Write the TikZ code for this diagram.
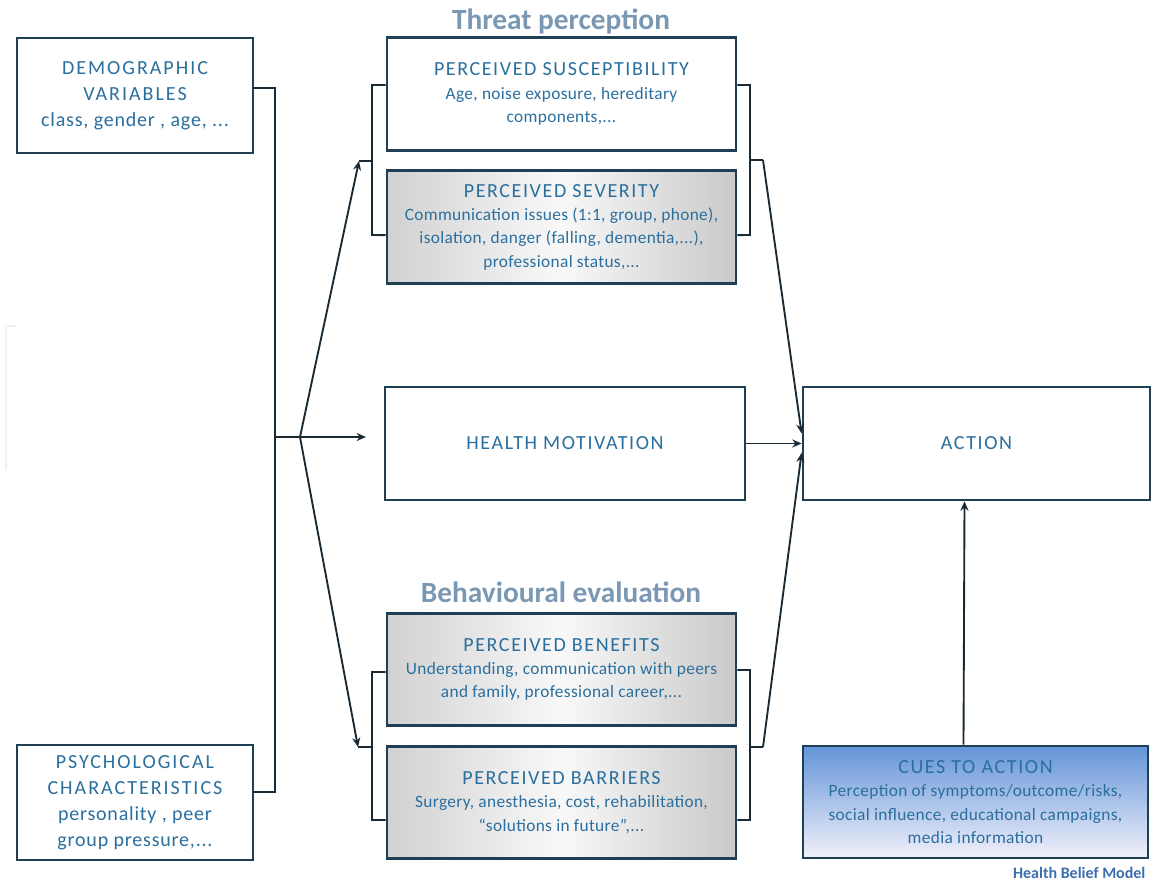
\documentclass[tikz,border=0pt]{standalone}
\usepackage{fontspec}
\setmainfont{Carlito}
\newfontfamily\capsfont[LetterSpace=8]{Carlito}
\newfontfamily\subfont[LetterSpace=2]{Carlito}
\newfontfamily\sidecaps[LetterSpace=10]{Carlito}
\newfontfamily\sidelow[LetterSpace=4]{Carlito}
\usetikzlibrary{arrows.meta}
\definecolor{bordc}{HTML}{1F3F52}
\definecolor{linec}{HTML}{1A2A35}
\definecolor{txtc}{HTML}{2A6F9E}
\definecolor{titc}{HTML}{7A98B3}
\definecolor{hbmc}{HTML}{3B6FB0}
\definecolor{cuetop}{HTML}{6395D8}
\definecolor{cuebot}{HTML}{F2F0FA}
\tikzset{
  box/.style={draw=bordc, line width=2.1pt, inner sep=0pt, align=center, text=txtc,
    font=\fontsize{13}{17.5}\subfont},
  sidebox/.style={box, minimum width=177pt, minimum height=86.25pt,
    font=\fontsize{15}{19.5}\sidecaps},
  midbox/.style={box, minimum width=261.75pt, minimum height=84.5pt},
  graybox/.style={midbox, left color=gray!36, right color=gray!42, middle color=gray!5},
  conn/.style={draw=linec, line width=1.4pt},
  arr/.style={conn, -{Stealth[length=7pt,width=6pt]}},
  ttl/.style={font=\fontsize{22}{25}\bfseries, text=titc},
}
\newcommand{\hdtext}[1]{{\fontsize{15}{17}\capsfont #1}}
\newcommand{\lowtext}[1]{{\sidelow #1}}
\begin{document}
\begin{tikzpicture}[x=0.75pt,y=-0.75pt]
\useasboundingbox (0,0) rectangle (1153,885);
\fill[white] (0,0) rectangle (1153,885);
% faint edge mark
\draw[gray!12, line width=2pt] (16,326) -- (6,326) -- (6,470);

% titles
\node[ttl] (tp) at (561,21) {Threat perception};
\node[ttl] (be) at (561,592) {Behavioural evaluation};

% left boxes
\node[sidebox] (dem) at (135,95.5) {DEMOGRAPHIC\\VARIABLES\\\lowtext{class, gender , age, ...}};
\node[sidebox] (psy) at (135,802.5) {PSYCHOLOGICAL\\CHARACTERISTICS\\\lowtext{personality , peer}\\\lowtext{group pressure,...}};

% threat perception
\node[midbox] (sus) at (561.5,94) {\hdtext{PERCEIVED SUSCEPTIBILITY}\\Age, noise exposure, hereditary\\components,...};
\node[graybox] (sev) at (561.5,227) {\hdtext{PERCEIVED SEVERITY}\\Communication issues (1:1, group, phone),\\isolation, danger (falling, dementia,...),\\professional status,...};

% health motivation & action
\node[box, minimum width=270pt, minimum height=84.75pt, font=\fontsize{15}{17}\capsfont] (hm) at (565,443.5) {HEALTH MOTIVATION};
\node[box, minimum width=260.25pt, minimum height=84.75pt, font=\fontsize{15}{17}\capsfont] (act) at (976.5,443.5) {ACTION};

% behavioural evaluation
\node[graybox] (ben) at (561.5,669.5) {\hdtext{PERCEIVED BENEFITS}\\Understanding, communication with peers\\and family, professional career,...};
\node[graybox] (bar) at (561.5,802.5) {\hdtext{PERCEIVED BARRIERS}\\Surgery, anesthesia, cost, rehabilitation,\\“solutions in future”,...};

% cues
\node[box, minimum width=258.75pt, minimum height=84pt, top color=cuetop, bottom color=cuebot] (cue) at (975.5,802) {\hdtext{CUES TO ACTION}\\Perception of symptoms/outcome/risks,\\social influence, educational campaigns,\\media information};

\node[font=\fontsize{12}{14}\bfseries, text=hbmc, anchor=base east, inner sep=1pt] (hbm) at (1147,878) {Health Belief Model};

% coordinates
\coordinate (busM) at (275,437);
\coordinate (hmIn) at (366,437);
\coordinate (fan) at (300,437);
\coordinate (tlTip) at (359,161);
\coordinate (tlMid) at (372,161);
\coordinate (tlBot) at (372,235);
\coordinate (trBot) at (750,235);
\coordinate (trMid) at (750,160);
\coordinate (trOut) at (763,160);
\coordinate (blTip) at (358,747);
\coordinate (blMid) at (372,747);
\coordinate (blBot) at (372,820);
\coordinate (brBot) at (750,820);
\coordinate (brMid) at (750,747);
\coordinate (brOut) at (763,747);

% left bus
\draw[conn] ([yshift=5.6pt]dem.east) -| (busM);
\draw[conn] ([yshift=7.9pt]psy.east) -| (busM);
\draw[arr] (busM) -- (hmIn);
\draw[arr] (fan) -- (tlTip);
\draw[arr] (fan) -- (blTip);

% top brackets
\draw[conn] ([yshift=6.75pt]sus.west) -| (tlBot) -- ([yshift=-6.1pt]sev.west);
\draw[conn] (tlTip) -- (tlMid);
\draw[conn] ([yshift=6.75pt]sus.east) -| (trBot) -- ([yshift=-6.1pt]sev.east);
\draw[conn] (trMid) -- (trOut);
\draw[arr] (trOut) -- ([yshift=7.5pt]act.west);

% bottom brackets
\draw[conn] ([yshift=-1.9pt]ben.west) -| (blBot) -- ([yshift=-13.1pt]bar.west);
\draw[conn] (blTip) -- (blMid);
\draw[conn] ([yshift=-0.4pt]ben.east) -| (brBot) -- ([yshift=-13.1pt]bar.east);
\draw[conn] (brMid) -- (brOut);
\draw[arr] (brOut) -- ([yshift=-7pt]act.west);

% health motivation to action
\draw[arr] (hm.east) -- (act.west);
% cues to action
\draw[arr] ([xshift=-9pt]cue.north) -- ([xshift=-9pt]act.south);
\end{tikzpicture}
\end{document}
